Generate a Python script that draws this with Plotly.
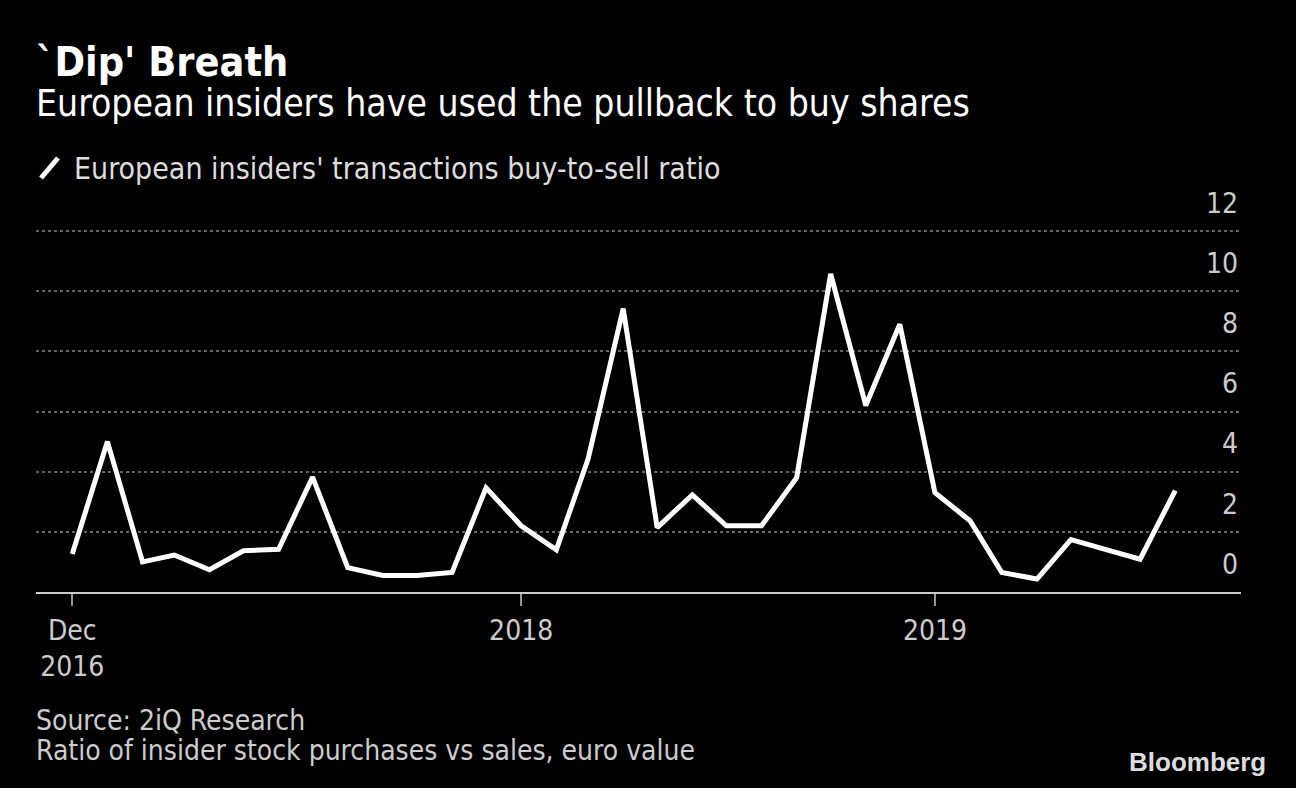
import plotly.graph_objects as go

months = ["2016-12-01","2017-01-01","2017-02-01","2017-03-01","2017-04-01","2017-05-01",
          "2017-06-01","2017-07-01","2017-08-01","2017-09-01","2017-10-01","2017-11-01",
          "2017-12-01","2018-01-01","2018-02-01","2018-03-01","2018-04-01","2018-05-01",
          "2018-06-01","2018-07-01","2018-08-01","2018-09-01","2018-10-01","2018-11-01",
          "2018-12-01","2019-01-01","2019-02-01","2019-03-01","2019-04-01","2019-05-01",
          "2019-06-01","2019-07-01","2019-08-01"]
ratio = [1.26, 5.0, 1.0, 1.23, 0.74, 1.37,
         1.42, 3.82, 0.81, 0.55, 0.55, 0.65,
         3.46, 2.2, 1.4, 4.42, 9.42, 2.14,
         3.23, 2.2, 2.2, 3.8, 10.57, 6.2,
         8.9, 3.3, 2.37, 0.65, 0.43, 1.74,
         1.41, 1.09, 3.37]
x_tickvals = ["2016-12-01", "2018-01-01", "2019-01-01"]
x_ticktext = ["Dec<br>2016", "2018", "2019"]
y_tickvals = [0, 2, 4, 6, 8, 10, 12]

FONT = "DejaVu Sans Condensed, DejaVu Sans, sans-serif"
L, R, T, B = 36, 1241, 150, 592
W, H = 1296, 788
Y_TOP_GRID = 231
unit = (B - Y_TOP_GRID) / 12.0
y_max = 12 + (Y_TOP_GRID - T) / unit

def px(x):
    return (x - L) / (R - L)

def py(y):
    return (B - y) / (B - T)

fig = go.Figure()
fig.add_trace(go.Scatter(x=months, y=ratio, mode="lines",
                         line=dict(color="#ffffff", width=5),
                         name="European insiders' transactions buy-to-sell ratio",
                         showlegend=False))

fig.update_layout(
    width=W, height=H,
    margin=dict(l=L, r=W - R, t=T, b=H - B, pad=0),
    paper_bgcolor="#000000", plot_bgcolor="#000000",
    font=dict(family=FONT, color="#cccccc", size=28),
    xaxis=dict(type="date", range=["2016-10-30", "2019-09-28"],
               tickvals=x_tickvals, ticktext=x_ticktext,
               showgrid=False, zeroline=False,
               showline=True, linecolor="#cccccc", linewidth=2,
               ticks="outside", ticklen=12, tickwidth=2, tickcolor="#999999",
               tickfont=dict(size=28, color="#cccccc")),
    yaxis=dict(range=[0, y_max], tickvals=y_tickvals, side="right",
               ticklabelposition="inside", ticklabelshift=-28, ticklabelstandoff=0,
               showgrid=True, gridcolor="#666666", griddash="3px,3px", gridwidth=2,
               zeroline=False, showline=False, ticks="",
               tickfont=dict(size=28, color="#cccccc")),
)

ann = [
    dict(text="<b>`Dip' Breath</b>", x=px(34), y=py(62), size=41, color="#ffffff"),
    dict(text="European insiders have used the pullback to buy shares", x=px(34), y=py(104), size=37, color="#ffffff"),
    dict(text="European insiders' transactions buy-to-sell ratio", x=px(72), y=py(168), size=30, color="#dddddd"),
    dict(text="Source: 2iQ Research", x=px(34), y=py(720), size=28, color="#cccccc"),
    dict(text="Ratio of insider stock purchases vs sales, euro value", x=px(34), y=py(750), size=28, color="#cccccc"),
]
for a in ann:
    fig.add_annotation(text=a["text"], xref="paper", yref="paper", x=a["x"], y=a["y"],
                       xanchor="left", yanchor="middle", showarrow=False,
                       font=dict(size=a["size"], color=a["color"], family=FONT))
fig.add_annotation(text="<b>Bloomberg</b>", xref="paper", yref="paper", x=px(1268), y=py(762),
                   xanchor="right", yanchor="middle", showarrow=False,
                   font=dict(size=26, color="#dddddd", family="Liberation Sans Narrow, Liberation Sans, sans-serif"))
fig.add_shape(type="line", xref="paper", yref="paper", x0=px(41), y0=py(178), x1=px(58), y1=py(158),
              line=dict(color="#ffffff", width=5))

fig.write_html("out.html")
